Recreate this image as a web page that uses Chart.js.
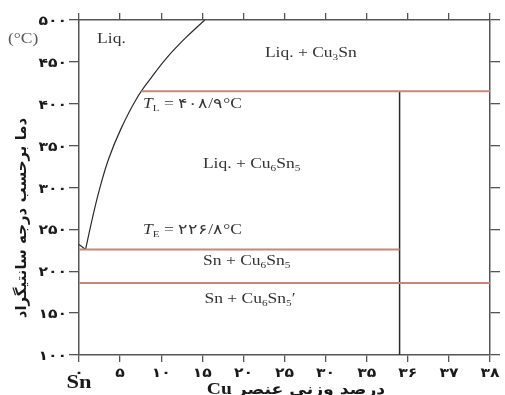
<!DOCTYPE html>
<html>
<head>
<meta charset="utf-8">
<script src="https://cdn.jsdelivr.net/npm/chart.js@4/dist/chart.umd.min.js"></script>
<style>
html, body { margin: 0; padding: 0; background: #fff; }
#wrap { width: 505px; height: 395px; }
</style>
</head>
<body>
<div id="wrap"><canvas id="c"></canvas></div>
<script>
// محور افقی: درصد وزنی Cu (فاصله ها یکسان نیستند)
var xTicks = [0, 5, 10, 15, 20, 25, 30, 35, 36, 37, 38];
var xTickLabels = ["۰", "۵", "۱۰", "۱۵", "۲۰", "۲۵", "۳۰", "۳۵", "۳۶", "۳۷", "۳۸"];
var yTicks = [100, 150, 200, 250, 300, 350, 400, 450, 500];
var yTickLabels = ["۱۰۰", "۱۵۰", "۲۰۰", "۲۵۰", "۳۰۰", "۳۵۰", "۴۰۰", "۴۵۰", "۵۰۰"];

// خط مایع (liquidus)
var snDipCu = [0, 0.8];
var snDipT = [232, 226];
var liquidusCu = [0.8, 1.6, 2.5, 3.6, 5.1, 7.0, 8.7, 10.6, 12.9, 15.3];
var liquidusT = [226, 262, 298, 334, 370, 406, 430, 454, 478, 500];

// دماهای افقی و ترکیب Cu6Sn5
var tPeritectic = 415;
var tlStartCu = 7.6;
var tEutectic = 226;
var tEta = 186;
var cuEta = 35.8;

// تبدیل درصد وزنی به موقعیت روی محور
function pos(wt) {
    for (var i = 0; i < xTicks.length - 1; i++) {
        if (wt <= xTicks[i + 1]) return i + (wt - xTicks[i]) / (xTicks[i + 1] - xTicks[i]);
    }
    return xTicks.length - 1;
}
function pts(xs, ys) {
    return xs.map(function (x, i) { return { x: pos(x), y: ys[i] }; });
}

var red = '#c4877b';
var dark = '#2a2a2a';

function lineSet(data, color, w, tension) {
    return {
        data: data, showLine: true, borderColor: color, borderWidth: w,
        pointRadius: 0, fill: false, tension: tension || 0
    };
}

// رسم متن با کشیدگی افقی
function rich(ctx, parts, x, y, align, sx) {
    var w = 0;
    parts.forEach(function (p) { ctx.font = p[1]; w += ctx.measureText(p[0]).width; });
    var start = align === 'center' ? x - w * sx / 2 : (align === 'right' ? x - w * sx : x);
    ctx.save();
    ctx.translate(start, y);
    ctx.scale(sx, 1);
    ctx.textAlign = 'left';
    ctx.textBaseline = 'alphabetic';
    var cx = 0;
    parts.forEach(function (p) {
        ctx.font = p[1];
        ctx.fillText(p[0], cx, p[2] || 0);
        cx += ctx.measureText(p[0]).width;
    });
    ctx.restore();
}

var serif = "'Liberation Serif', 'DejaVu Serif', serif";
var fa = "'DejaVu Sans', sans-serif";
var F = '14px ' + serif;
var S = '9px ' + serif;
var FI = 'italic 14px ' + serif;

var textPlugin = {
    id: 'texts',
    afterDraw: function (chart) {
        var ctx = chart.ctx;
        var xs = chart.scales.x, ys = chart.scales.y;
        ctx.save();
        // برچسب های محورها
        ctx.fillStyle = '#1a1a1a';
        yTicks.forEach(function (v, i) {
            rich(ctx, [[yTickLabels[i], 'bold 13px ' + fa]], 67, ys.getPixelForValue(v) + 5, 'right', 1.2);
        });
        xTickLabels.forEach(function (l, i) {
            rich(ctx, [[l, 'bold 13px ' + fa]], xs.getPixelForValue(i), 377, 'center', 1.2);
        });
        rich(ctx, [['Sn', 'bold 18px ' + serif]], xs.getPixelForValue(0), 388, 'center', 1.25);
        rich(ctx, [['Cu ', 'bold 17px ' + serif], ['درصد وزنی عنصر', 'bold 15px ' + fa]], 296, 394, 'center', 1.15);

        ctx.save();
        ctx.translate(22, 218);
        ctx.rotate(-Math.PI / 2);
        ctx.font = 'bold 15px ' + fa;
        ctx.textAlign = 'center';
        ctx.textBaseline = 'middle';
        ctx.fillText('دما برحسب درجه سانتیگراد', 0, 0);
        ctx.restore();

        ctx.fillStyle = '#555';
        rich(ctx, [['(°C)', F]], 8, 43, 'left', 1.25);

        // نام ناحیه ها
        ctx.fillStyle = '#333';
        function px(wt) { return xs.getPixelForValue(pos(wt)); }
        function py(t) { return ys.getPixelForValue(t); }
        rich(ctx, [['Liq.', F]], px(2.2), py(473), 'left', 1.25);
        rich(ctx, [['Liq. + Cu', F], ['3', S, 3], ['Sn', F]], px(28.2), py(456), 'center', 1.25);
        rich(ctx, [['T', FI], ['L', S, 3], [' = ۴۰۸/۹°C', F]], px(7.8), py(395), 'left', 1.25);
        rich(ctx, [['Liq. + Cu', F], ['6', S, 3], ['Sn', F], ['5', S, 3]], px(21), py(323), 'center', 1.25);
        rich(ctx, [['T', FI], ['E', S, 3], [' = ۲۲۶/۸°C', F]], px(7.8), py(245), 'left', 1.25);
        rich(ctx, [['Sn + Cu', F], ['6', S, 3], ['Sn', F], ['5', S, 3]], px(20.4), py(208), 'center', 1.25);
        rich(ctx, [['Sn + Cu', F], ['6', S, 3], ['Sn', F], ['5', S, 3], ['′', F]], px(20.8), py(162), 'center', 1.25);
        ctx.restore();
    }
};

function axis(side, size, tickLen, isX) {
    return {
        type: 'linear',
        position: side,
        min: isX ? 0 : 100,
        max: isX ? 10 : 500,
        ticks: { stepSize: isX ? 1 : 50, display: false },
        grid: { drawOnChartArea: false, drawTicks: true, tickLength: tickLen, color: '#555', lineWidth: 1.3 },
        border: { display: true, color: '#555', width: 1.5 },
        afterFit: function (s) { if (isX) s.height = size; else s.width = size; }
    };
}

var ctx = document.getElementById('c').getContext('2d');
var chart = new Chart(ctx, {
    type: 'scatter',
    data: {
        datasets: [
            lineSet(pts([tlStartCu, 38], [tPeritectic, tPeritectic]), red, 2),
            lineSet(pts([0, cuEta], [tEutectic, tEutectic]), red, 2),
            lineSet(pts([0, 38], [tEta, tEta]), red, 2),
            lineSet(pts([cuEta, cuEta], [tPeritectic, 100]), dark, 1.5),
            lineSet(pts(snDipCu, snDipT), dark, 1.2),
            lineSet(pts(liquidusCu, liquidusT), dark, 1.2, 0.4)
        ]
    },
    options: {
        responsive: true,
        maintainAspectRatio: false,
        animation: false,
        layout: { padding: 0 },
        plugins: { legend: { display: false }, tooltip: { enabled: false } },
        scales: {
            x: axis('bottom', 40, 7, true),
            x2: axis('top', 20, 7, true),
            y: axis('left', 79, 10, false),
            y2: axis('right', 15, 10, false)
        }
    },
    plugins: [textPlugin]
});
</script>
</body>
</html>
